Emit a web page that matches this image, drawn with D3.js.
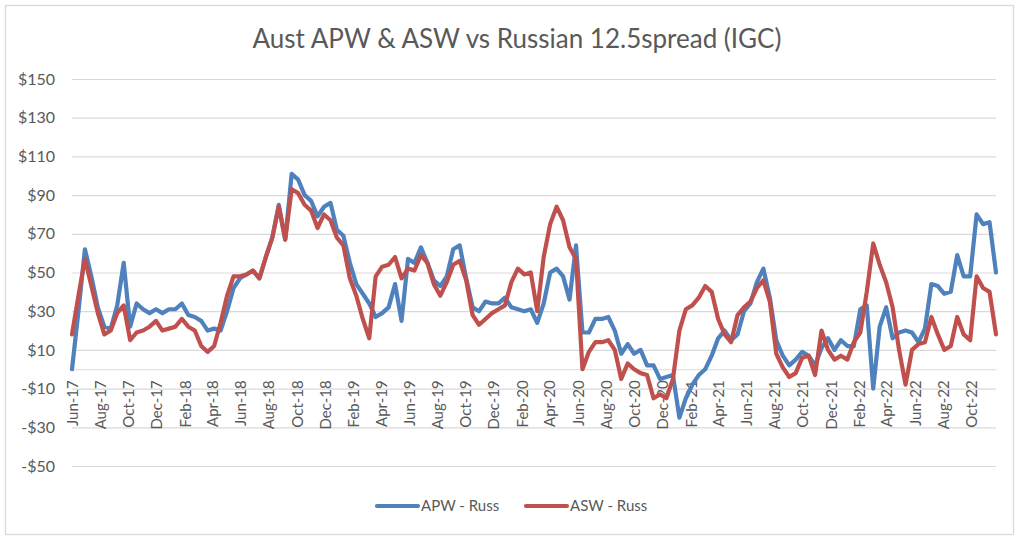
<!DOCTYPE html>
<html lang="en">
<head>
    <meta charset="UTF-8">
    <title>Aust APW & ASW vs Russian 12.5spread (IGC)</title>
    <script src="https://d3js.org/d3.v7.min.js"></script>
    <style>
        body { margin: 0; background: #fff; }
        text { font-family: Lato, "Open Sans", sans-serif; fill: #595959; }
    </style>
</head>
<body>
    <div id="chart"></div>
    <script>
        // fortnightly readings from 1 Jun 2017
        var startDate = new Date(2017, 5, 1);
        var stepDays = 14;

        var apwRuss = [0, 30, 62, 48, 32, 22, 21, 33, 55, 22, 34, 31, 29, 31, 29, 31, 31, 34, 28, 27,
            25, 20, 21, 20, 30, 42, 47, 49, 51, 47, 58, 68, 85, 67, 101, 98, 90, 87, 79, 84,
            86, 72, 69, 55, 44, 39, 34, 27, 29, 32, 44, 25, 57, 55, 63, 55, 46, 43, 48, 62,
            64, 47, 32, 30, 35, 34, 34, 37, 32, 31, 30, 31, 24, 34, 50, 52, 48, 36, 64, 19,
            19, 26, 26, 27, 20, 8, 13, 8, 10, 2, 2, -5, -4, -3, -25, -15, -8, -3, 0, 7,
            16, 20, 15, 18, 30, 34, 45, 52, 37, 15, 7, 2, 5, 9, 7, 2, 11, 16, 10, 15,
            12, 12, 31, 33, -10, 22, 32, 16, 19, 20, 19, 14, 21, 44, 43, 39, 40, 59, 48, 48,
            80, 75, 76, 50];

        var aswRuss = [18, 38, 57, 43, 29, 18, 20, 29, 33, 15, 19, 20, 22, 25, 20, 21, 22, 26, 22, 20,
            12, 9, 12, 24, 38, 48, 48, 49, 51, 47, 58, 68, 84, 67, 93, 91, 85, 82, 73, 80,
            77, 68, 64, 47, 38, 26, 16, 48, 53, 54, 58, 47, 52, 51, 59, 55, 44, 38, 45, 54,
            56, 46, 28, 23, 26, 29, 31, 33, 45, 52, 49, 50, 30, 58, 75, 84, 77, 63, 57, 0,
            9, 14, 14, 15, 10, -5, 3, 0, -2, -3, -15, -13, -15, -5, 20, 31, 33, 37, 43, 40,
            26, 18, 14, 28, 32, 35, 42, 46, 35, 8, 1, -4, -2, 6, 7, -3, 20, 10, 5, 7,
            5, 14, 19, 40, 65, 54, 45, 32, 10, -8, 10, 13, 14, 27, 18, 10, 12, 27, 18, 15,
            48, 42, 40, 18];

        var seriesNames = ["APW - Russ", "ASW - Russ"];
        var seriesColors = ["#4F81BD", "#C0504D"];
        var yTicks = d3.range(-50, 151, 20);

        var dates = apwRuss.map(function(d, i) { return d3.timeDay.offset(startDate, i * stepDays); });
        var endDate = dates[dates.length - 1];
        // a label every second month, starting Jun-17
        var xTicks = d3.timeMonth.range(startDate, endDate).filter(function(d, i) { return i % 2 === 0; });

        var W = 1024, H = 544;
        var margin = {top: 79, right: 28, bottom: 78, left: 72};
        var width = W - margin.left - margin.right;
        var height = H - margin.top - margin.bottom;

        var svg = d3.select("#chart")
            .append("svg")
            .attr("width", W)
            .attr("height", H);

        // chart border
        svg.append("rect")
            .attr("x", 5.5).attr("y", 5.5)
            .attr("width", 1008).attr("height", 529)
            .attr("fill", "#fff")
            .attr("stroke", "#d9d9d9")
            .attr("stroke-width", 1.3);

        svg.append("text")
            .attr("x", 517)
            .attr("y", 48)
            .attr("text-anchor", "middle")
            .style("font-size", "26px")
            .text("Aust APW & ASW vs Russian 12.5spread (IGC)");

        var g = svg.append("g")
            .attr("transform", "translate(" + margin.left + "," + margin.top + ")");

        var x = d3.scaleTime()
            .domain([startDate, endDate])
            .range([0, width]);

        var y = d3.scaleLinear()
            .domain([-50, 150])
            .range([height, 0]);

        // y axis with gridlines
        var yAxis = g.append("g")
            .call(d3.axisLeft(y)
                .tickValues(yTicks)
                .tickSize(-width)
                .tickPadding(17)
                .tickFormat(function(d) { return (d < 0 ? "-$" : "$") + Math.abs(d); }));
        yAxis.select(".domain").remove();
        yAxis.selectAll("line").attr("stroke", "#d9d9d9").attr("stroke-width", 1.2);
        yAxis.selectAll("text").style("font-size", "16px").style("fill", "#595959");

        // x axis crossing at zero
        var xAxis = g.append("g")
            .attr("transform", "translate(0," + y(0) + ")")
            .call(d3.axisBottom(x)
                .tickValues(xTicks)
                .tickSize(0)
                .tickFormat(d3.timeFormat("%b-%y")));
        xAxis.select(".domain").attr("stroke", "#d9d9d9").attr("stroke-width", 1.2);
        xAxis.selectAll("text")
            .attr("transform", "rotate(-90)")
            .attr("text-anchor", "end")
            .attr("x", -11)
            .attr("y", 0)
            .attr("dy", "0.35em")
            .style("font-size", "15px")
            .style("fill", "#595959");

        var line = d3.line()
            .x(function(d, i) { return x(dates[i]); })
            .y(function(d) { return y(d); });

        [apwRuss, aswRuss].forEach(function(s, k) {
            g.append("path")
                .datum(s)
                .attr("fill", "none")
                .attr("stroke", seriesColors[k])
                .attr("stroke-width", 4.2)
                .attr("stroke-linejoin", "round")
                .attr("stroke-linecap", "round")
                .attr("d", line);
        });

        // legend
        var legendX = [377, 526];
        seriesNames.forEach(function(name, k) {
            var lg = svg.append("g").attr("transform", "translate(" + legendX[k] + ",506)");
            lg.append("line")
                .attr("x1", 0).attr("x2", 41)
                .attr("stroke", seriesColors[k])
                .attr("stroke-width", 4.2)
                .attr("stroke-linecap", "round");
            lg.append("text")
                .attr("x", 44)
                .attr("dy", "0.35em")
                .style("font-size", "15px")
                .text(name);
        });
    </script>
</body>
</html>
